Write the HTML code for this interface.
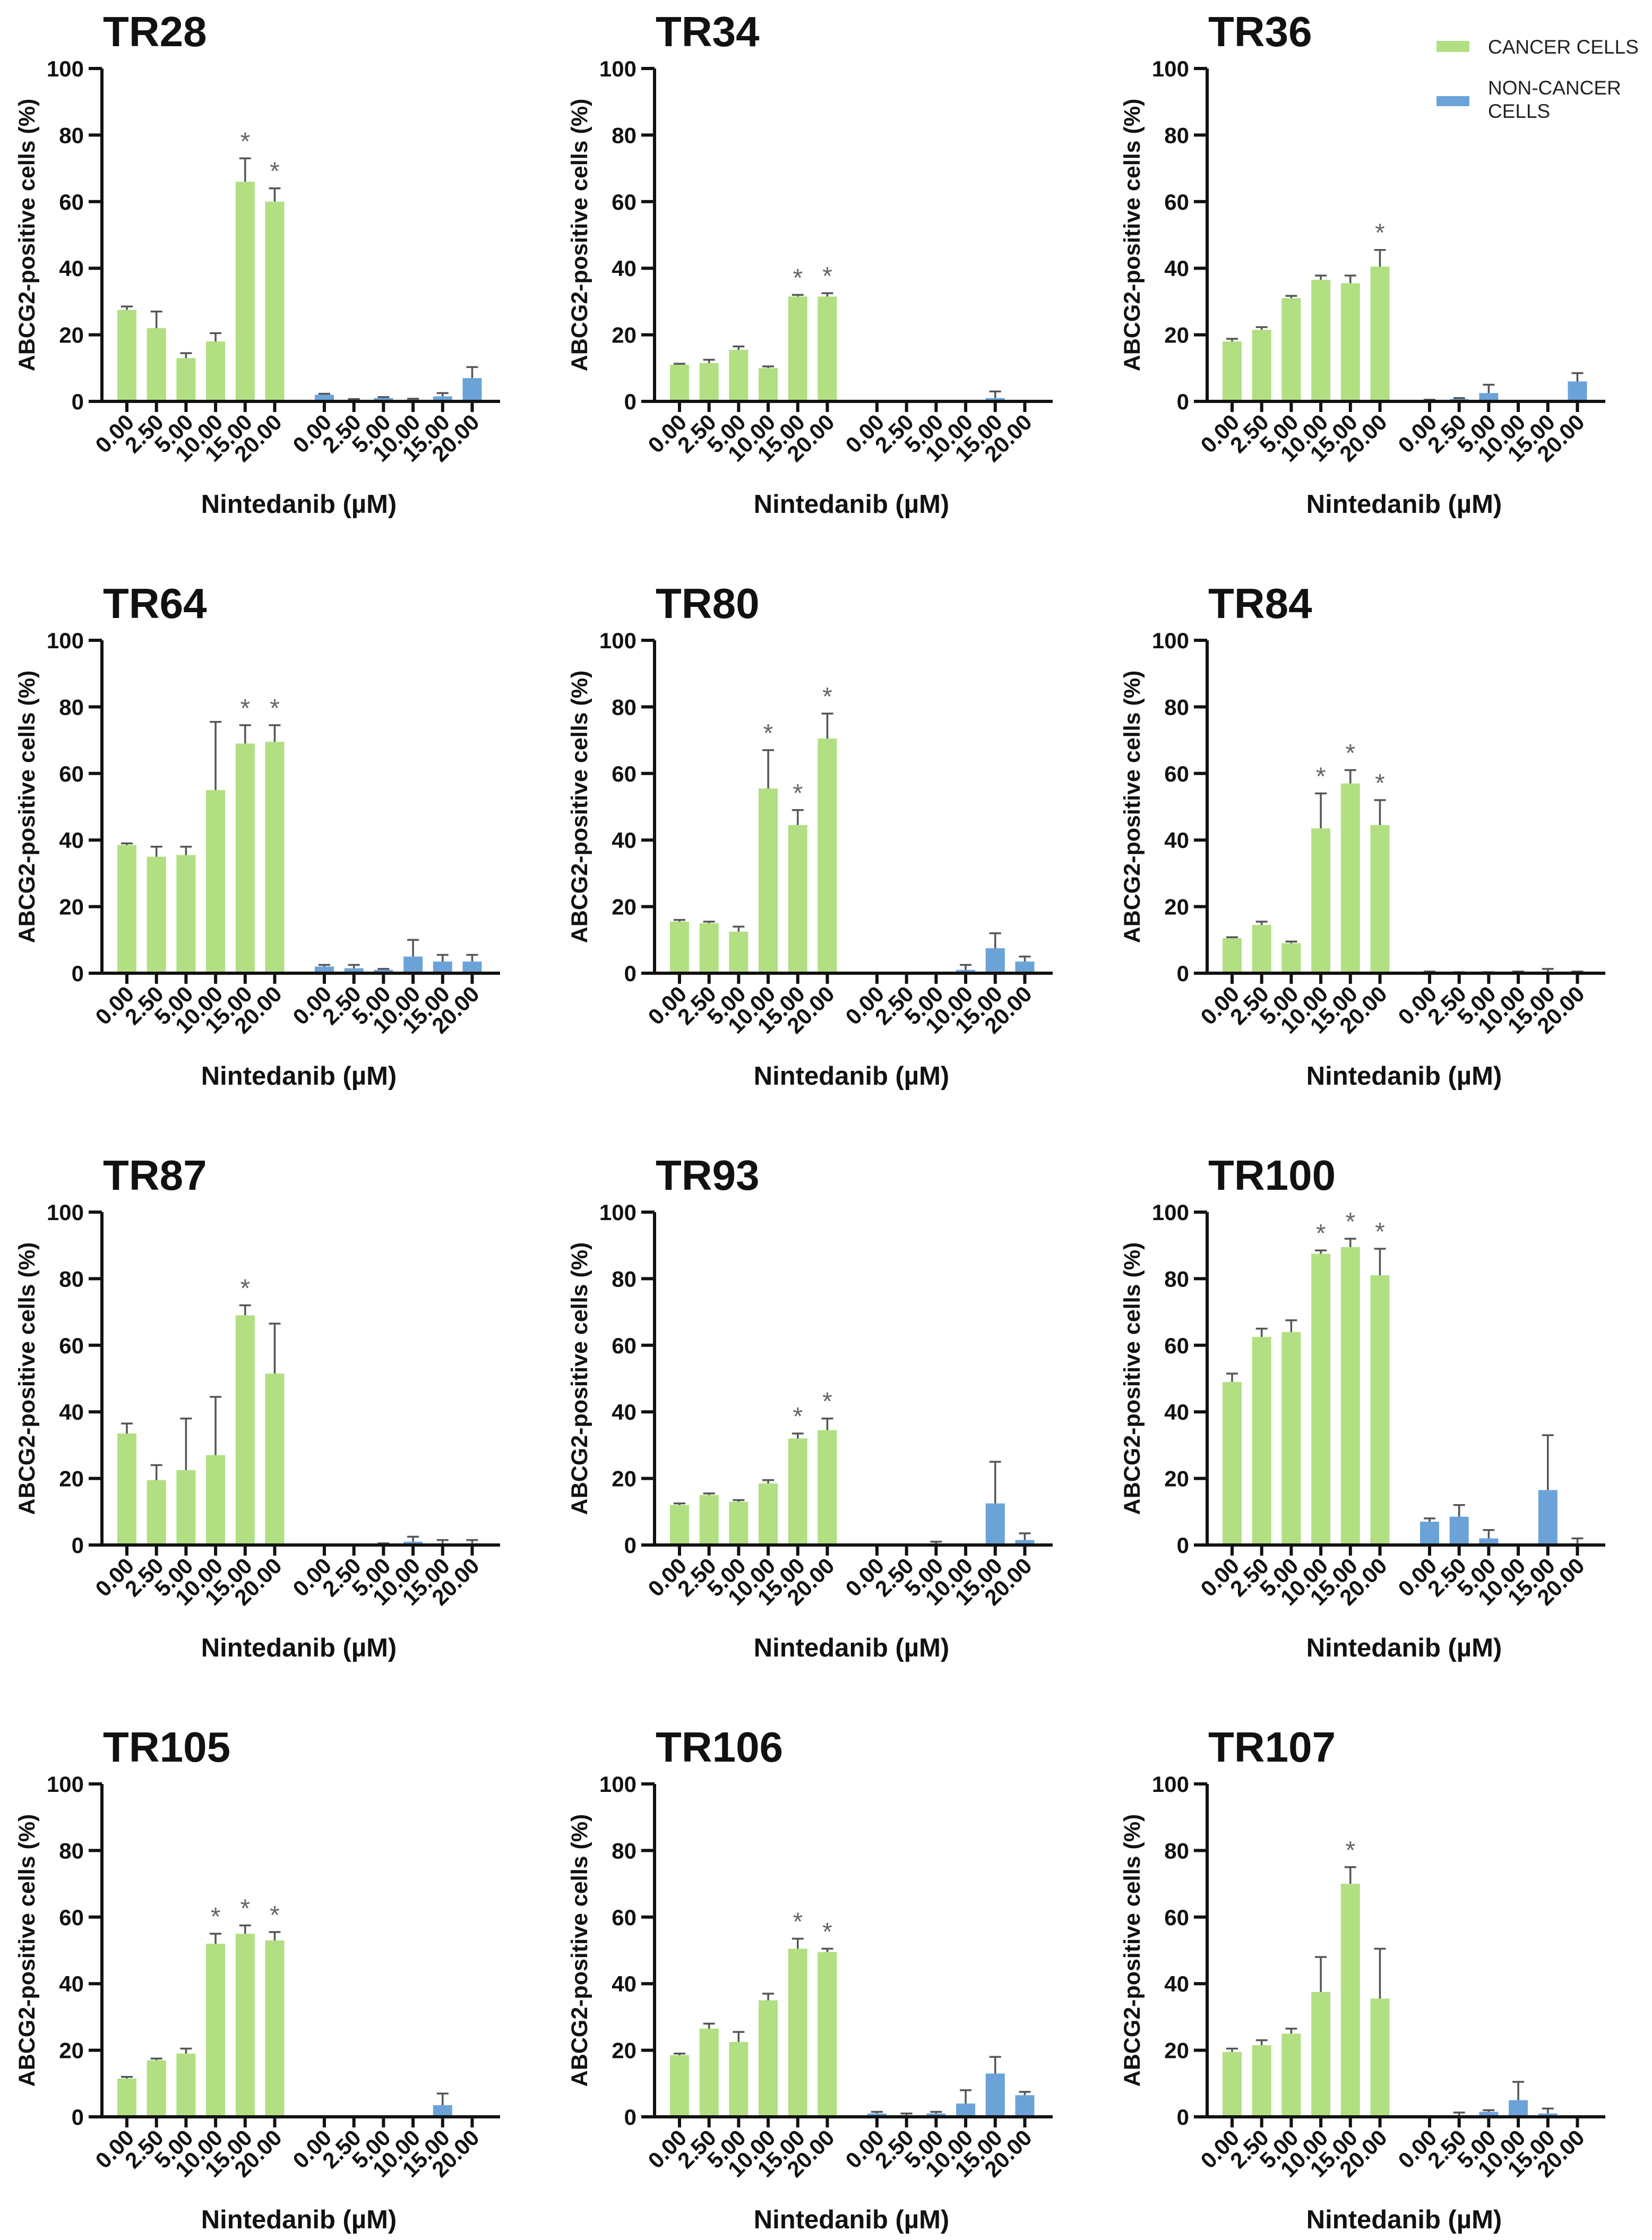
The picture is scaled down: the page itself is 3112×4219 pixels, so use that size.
<!DOCTYPE html>
<html><head><meta charset="utf-8"><style>
html,body{margin:0;padding:0;background:#fff;}
svg{display:block;font-family:"Liberation Sans",Arial,sans-serif;}
</style></head>
<body>
<svg id="fig" width="3112" height="4219" viewBox="0 0 3112 4219" xmlns="http://www.w3.org/2000/svg">
<g>
<rect x="2706" y="77" width="62" height="21" fill="#b1df82"/>
<text x="2803" y="101" font-size="37" fill="#222">CANCER CELLS</text>
<rect x="2706" y="181" width="62" height="19" fill="#6ba3d9"/>
<text x="2803" y="178" font-size="37" fill="#222">NON-CANCER</text>
<text x="2803" y="222" font-size="37" fill="#222">CELLS</text>
</g>
</svg>
<script>
const titles=["TR28","TR34","TR36","TR64","TR80","TR84","TR87","TR93","TR100","TR105","TR106","TR107"];
const doses=["0.00","2.50","5.00","10.00","15.00","20.00"];
const yTicks=[0,20,40,60,80,100];
const cancerMeans=[
[27.5,22,13,18,66,60],[11,11.5,15.5,10,31.5,31.5],[18,21.5,31,36.5,35.5,40.5],
[38.5,35,35.5,55,69,69.5],[15.5,15,12.5,55.5,44.5,70.5],[10.5,14.5,9,43.5,57,44.5],
[33.5,19.5,22.5,27,69,51.5],[12,15,13,18.5,32,34.5],[49,62.5,64,87.5,89.5,81],
[11.5,17,19,52,55,53],[18.5,26.5,22.5,35,50.5,49.5],[19.5,21.5,25,37.5,70,35.5]];
const cancerTops=[
[28.5,27,14.5,20.5,73,64],[11.3,12.5,16.5,10.5,32,32.5],[18.8,22.3,31.7,37.8,37.8,45.5],
[39,38,38,75.5,74.5,74.5],[16,15.5,14,67,49,78],[10.8,15.5,9.5,54,61,52],
[36.5,24,38,44.5,72,66.5],[12.5,15.5,13.5,19.5,33.5,38],[51.5,65,67.5,88.5,92,89],
[12,17.5,20.5,55,57.5,55.5],[19,28,25.5,37,53.5,50.5],[20.5,23,26.5,48,75,50.5]];
const nonMeans=[
[2,0.5,1,0.5,1.5,7],[0,0,0,0,1,0],[0.3,0.7,2.5,0,0,6],
[2,1.5,1,5,3.5,3.5],[0,0,0,1,7.5,3.5],[0,0,0,0,0.3,0],
[0,0,0.3,1,0.5,0.5],[0,0,0.3,0,12.5,1.5],[7,8.5,2,0,16.5,0.5],
[0,0,0,0,3.5,0],[1,0.5,1,4,13,6.5],[0,0.5,1.5,5,1,0]];
const nonTops=[
[2.3,0.7,1.3,0.8,2.5,10.3],[0,0,0,0,3,0],[0.5,1,5,0,0,8.5],
[2.5,2.5,1.3,10,5.5,5.5],[0,0,0,2.5,12,5],[0.5,0.3,0.3,0.5,1.3,0.5],
[0,0,0.5,2.5,1.5,1.5],[0,0,1,0,25,3.5],[8,12,4.5,0,33,2],
[0,0,0,0,7,0],[1.5,1,1.5,8,18,7.5],[0,1.3,2,10.5,2.5,0]];
const stars=[[4,5],[4,5],[5],[4,5],[3,4,5],[3,4,5],[4],[4,5],[3,4,5],[3,4,5],[4,5],[4]];

const NS="http://www.w3.org/2000/svg";
const svg=document.getElementById('fig');
function mk(tag,attrs,parent){const e=document.createElementNS(NS,tag);for(const k in attrs)e.setAttribute(k,attrs[k]);parent.appendChild(e);return e;}
const H=627, SLOT=55.7, BW=36;
titles.forEach((t,p)=>{
  const col=p%3,row=Math.floor(p/3);
  const ax=192+col*1041, zy=756+row*1077;
  const yS=v=>zy-v/100*H;
  const xC=i=>ax+47+i*SLOT;
  const xN=i=>ax+419+i*SLOT;
  const g=mk('g',{},svg);
  
  
  const tt=mk('text',{x:ax+2,y:zy-669,'font-size':80,'font-weight':'bold',fill:'#111'},g);tt.textContent=t;
  
  
  const yl=mk('text',{x:0,y:0,'font-size':43,'font-weight':'bold',fill:'#111','text-anchor':'middle',transform:`translate(${ax-127},${zy-H/2}) rotate(-90)`},g);yl.textContent="ABCG2-positive cells (%)";
  
  
  const xl=mk('text',{x:ax+371,y:zy+210,'font-size':49,'font-weight':'bold',fill:'#111','text-anchor':'middle'},g);xl.textContent="Nintedanib (\u00b5M)";
  
  
  yTicks.forEach(v=>{
    const l=mk('line',{x1:ax-25,x2:ax,y1:yS(v),y2:yS(v),stroke:'#111','stroke-width':6},g);
    
    
    const tx=mk('text',{x:ax-34,y:yS(v)+15,'font-size':42,'font-weight':'bold',fill:'#111','text-anchor':'end'},g);tx.textContent=v;
    
    
  });
  function series(means,tops,xf,color,nm){
    means[p].forEach((v,i)=>{
      const cx=xf(i);
      if(v>0){const r=mk('rect',{x:cx-BW/2,y:yS(v),width:BW,height:zy-yS(v),fill:color},g);
        
        }
      const top=tops[p][i];
      if(top>v){
        const e=mk('path',{d:`M${cx},${yS(v)}V${yS(top)}M${cx-11},${yS(top)}H${cx+11}`,stroke:'#555','stroke-width':3.5,fill:'none'},g);
        
        
      }
      const tk=mk('line',{x1:cx,x2:cx,y1:zy,y2:zy+20,stroke:'#111','stroke-width':6},g);
      
      
      const lb=mk('text',{x:0,y:0,'font-size':42,'font-weight':'bold',fill:'#111','text-anchor':'end',transform:`translate(${cx+16},${zy+42}) rotate(-45)`},g);lb.textContent=doses[i];
      
      
    });
  }
  series(cancerMeans,cancerTops,xC,'#b1df82','cancer');
  series(nonMeans,nonTops,xN,'#6ba3d9','noncancer');
  stars[p].forEach(i=>{
    const s=mk('text',{x:xC(i),y:yS(cancerTops[p][i])-16,'font-size':48,fill:'#666','text-anchor':'middle'},g);s.textContent="*";
    
    
  });
  const axes=mk('path',{d:`M${ax},${zy-H}V${zy}M${ax-25},${zy}H${ax+750}`,stroke:'#111','stroke-width':6,fill:'none'},g);
  
  
});
</script>
</body></html>
